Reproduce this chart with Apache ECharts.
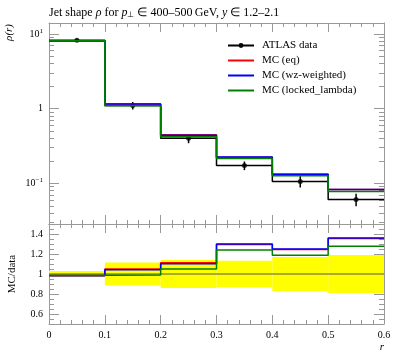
<!DOCTYPE html>
<html><head><meta charset="utf-8">
<script src="https://cdn.jsdelivr.net/npm/echarts@6/dist/echarts.min.js"></script>
<style>html,body{margin:0;padding:0;background:#fff}#c{width:397px;height:358px}</style>
</head><body><div id="c"></div>
<script>
const binEdges = [0, 0.1, 0.2, 0.3, 0.4, 0.5, 0.6];
const binCenters = [0.05, 0.15, 0.25, 0.35, 0.45, 0.55];
const atlasData = [8.2, 1.10, 0.40, 0.173, 0.106, 0.0607];
const atlasRelErr = [0.03, 0.115, 0.14, 0.133, 0.17, 0.19];
const mcEq = [8.08, 1.155, 0.445, 0.224, 0.132, 0.0823];
const mcWz = [8.06, 1.148, 0.441, 0.225, 0.1325, 0.0826];
const mcLocked = [8.10, 1.09, 0.42, 0.2145, 0.126, 0.0775];
const xTickLabels = [0, 0.1, 0.2, 0.3, 0.4, 0.5, 0.6];
const logMajorTicks = [0.1, 1, 10];
const logMinorTicks = [0.03,0.04,0.05,0.06,0.07,0.08,0.09,0.2,0.3,0.4,0.5,0.6,0.7,0.8,0.9,2,3,4,5,6,7,8,9];
const ratioMajorTicks = [0.6, 0.8, 1, 1.2, 1.4];
const ratioMinorTicks = [0.55,0.65,0.7,0.75,0.85,0.9,0.95,1.05,1.1,1.15,1.25,1.3,1.35,1.45];

const FONT = '"Liberation Serif", serif';
const GREY = '#999';

function steps(vals) {
  const pts = [];
  vals.forEach((v, i) => { pts.push([binEdges[i], v]); pts.push([binEdges[i + 1], v]); });
  return pts;
}
function ratio(vals) { return vals.map((v, i) => v / atlasData[i]); }

const chart = echarts.init(document.getElementById('c'), null, {renderer: 'canvas'});

function xAx(gridIndex, position, showLabels) {
  return {
    type: 'value', gridIndex, position, min: 0, max: 0.6, interval: 0.1,
    axisLine: {show: true, lineStyle: {color: GREY, width: 1}},
    axisTick: {show: true, inside: true, length: 9, lineStyle: {color: GREY}},
    minorTick: {show: true, splitNumber: 5, length: 4, lineStyle: {color: GREY}},
    splitLine: {show: false}, minorSplitLine: {show: false},
    axisLabel: showLabels ? {show: true, fontFamily: FONT, fontSize: 10, color: '#000', margin: 6,
      formatter: v => (xTickLabels.indexOf(+v.toFixed(2)) >= 0 ? String(+v.toFixed(2)) : '')} : {show: false}
  };
}
function logAx(position, major, showLabels) {
  return {
    type: 'log', gridIndex: 0, position, min: 0.0285, max: 14, logBase: 10,
    axisLine: {show: major, lineStyle: {color: GREY, width: 1}},
    axisTick: {show: true, inside: true, length: major ? 10 : 5, lineStyle: {color: GREY},
      customValues: major ? logMajorTicks : logMinorTicks},
    splitLine: {show: false},
    axisLabel: (major && showLabels) ? {show: true, fontFamily: FONT, fontSize: 10, color: '#000', margin: 6,
      customValues: logMajorTicks,
      formatter: v => v >= 9 ? '10{sup|1}' : (v >= 0.9 ? '1' : '10{sup|\u22121}'),
      rich: {sup: {fontSize: 7, fontFamily: FONT, verticalAlign: 'top', padding: [0, 0, 6, 0]}}} : {show: false}
  };
}
function ratioAx(position, major, showLabels) {
  return {
    type: 'value', gridIndex: 1, position, min: 0.5, max: 1.5,
    axisLine: {show: major, lineStyle: {color: GREY, width: 1}},
    axisTick: {show: true, inside: true, length: major ? 10 : 5, lineStyle: {color: GREY},
      customValues: major ? ratioMajorTicks : ratioMinorTicks},
    splitLine: {show: false},
    axisLabel: (major && showLabels) ? {show: true, fontFamily: FONT, fontSize: 10, color: '#000', margin: 6,
      customValues: ratioMajorTicks, formatter: v => String(+(+v).toFixed(2))} : {show: false}
  };
}

function stepLine(name, vals, color, xi, yi, extra) {
  return Object.assign({
    name, type: 'line', xAxisIndex: xi, yAxisIndex: yi, data: vals,
    symbol: 'none', showSymbol: false, animation: false, silent: true,
    lineStyle: {color, width: 1.5}, itemStyle: {color}
  }, extra || {});
}

const noDot = {color: 'rgba(0,0,0,0)', opacity: 0, borderWidth: 0};

const option = {
  animation: false,
  title: {
    left: 44, top: 2,
    text: 'Jet shape {i|\u03c1} for {i|p}{s|\u22a5} \u2208 400\u2013500\u2009GeV, {i|y} \u2208 1.2\u20132.1',
    textStyle: {fontFamily: FONT, fontSize: 12, fontWeight: 'normal', color: '#000',
      rich: {i: {fontStyle: 'italic', fontFamily: FONT, fontSize: 12},
             s: {fontFamily: FONT, fontSize: 8, verticalAlign: 'bottom', padding: [4, 0, 0, 0]}}}
  },
  legend: {
    orient: 'vertical', left: 222, top: 35, itemWidth: 26, itemHeight: 6, itemGap: 4,
    textStyle: {fontFamily: FONT, fontSize: 11, color: '#000', padding: [0, 0, 0, 3]},
    data: [
      {name: 'ATLAS data'},
      {name: 'MC (eq)', itemStyle: noDot},
      {name: 'MC (wz-weighted)', itemStyle: noDot},
      {name: 'MC (locked_lambda)', itemStyle: noDot}
    ],
    selectedMode: false
  },
  grid: [
    {left: 49, top: 23, width: 335, height: 201, containLabel: false},
    {left: 49, top: 224, width: 335, height: 100, containLabel: false}
  ],
  xAxis: [xAx(0, 'bottom', false), xAx(0, 'top', false), xAx(1, 'bottom', true), xAx(1, 'top', false)],
  yAxis: [logAx('left', true, true), logAx('left', false, false), logAx('right', true, false), logAx('right', false, false),
          ratioAx('left', true, true), ratioAx('left', false, false), ratioAx('right', true, false), ratioAx('right', false, false)],
  graphic: [
    {type: 'text', x: 9, y: 24, rotation: Math.PI / 2,
     style: {text: '\u03c1(r)', font: 'italic 11px ' + FONT, fill: '#000', align: 'right', verticalAlign: 'middle'}},
    {type: 'text', x: 12, y: 274, rotation: Math.PI / 2,
     style: {text: 'MC/data', font: '11px ' + FONT, fill: '#000', align: 'center', verticalAlign: 'middle'}},
    {type: 'text', x: 384, y: 347,
     style: {text: 'r', font: 'italic 11px ' + FONT, fill: '#000', align: 'right', verticalAlign: 'middle'}}
  ],
  series: [
    {
      name: 'band', type: 'custom', xAxisIndex: 2, yAxisIndex: 4, silent: true,
      data: atlasRelErr.map((e, i) => [binEdges[i], binEdges[i + 1], 1 - e, 1 + e]),
      renderItem: (params, api) => {
        const p0 = api.coord([api.value(0), api.value(3)]);
        const p1 = api.coord([api.value(1), api.value(2)]);
        return {type: 'rect', shape: {x: p0[0], y: p0[1], width: p1[0] - p0[0], height: p1[1] - p0[1]},
          style: {fill: '#ffff00'}};
      }
    },
    {
      name: 'unity', type: 'line', xAxisIndex: 2, yAxisIndex: 4, symbol: 'none', silent: true,
      data: [[0, 1], [0.6, 1]], lineStyle: {color: '#555', width: 1}
    },
    stepLine('ATLAS data', steps(atlasData), '#000', 0, 0, {symbol: 'circle', symbolSize: 4, showSymbol: false}),
    stepLine('MC (eq)', steps(mcEq), '#ff0000', 0, 0),
    stepLine('MC (wz-weighted)', steps(mcWz), '#0000ff', 0, 0),
    stepLine('MC (locked_lambda)', steps(mcLocked), '#008000', 0, 0),
    stepLine('MC (eq)', steps(ratio(mcEq)), '#ff0000', 2, 4),
    stepLine('MC (wz-weighted)', steps(ratio(mcWz)), '#0000ff', 2, 4),
    stepLine('MC (locked_lambda)', steps(ratio(mcLocked)), '#008000', 2, 4),
    {
      name: 'ATLAS data', type: 'custom', xAxisIndex: 0, yAxisIndex: 0, silent: true,
      data: atlasData.map((v, i) => [binCenters[i], v * (1 - atlasRelErr[i]), v * (1 + atlasRelErr[i])]),
      renderItem: (params, api) => {
        const a = api.coord([api.value(0), api.value(1)]);
        const b = api.coord([api.value(0), api.value(2)]);
        return {type: 'line', shape: {x1: a[0], y1: a[1], x2: b[0], y2: b[1]},
          style: {stroke: '#000', lineWidth: 1.5}};
      }
    },
    {
      name: 'ATLAS data', type: 'scatter', xAxisIndex: 0, yAxisIndex: 0, silent: true,
      symbol: 'circle', symbolSize: 5, itemStyle: {color: '#000'},
      data: atlasData.map((v, i) => [binCenters[i], v])
    }
  ]
};
chart.setOption(option);
</script></body></html>
